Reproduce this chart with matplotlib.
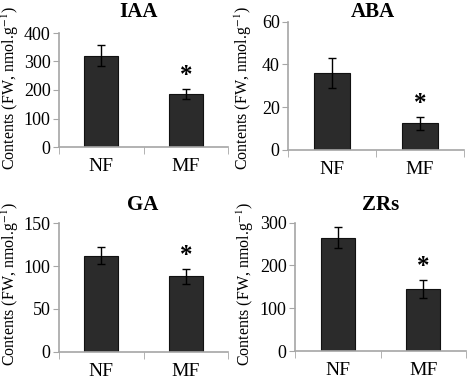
import numpy as np
from matplotlib import pyplot as plt

hormones = ['IAA', 'ABA', 'GA', 'ZRs']
groups = ['NF', 'MF']
nf_means = [320, 36, 112, 265]
nf_err = [37, 7, 10, 24]
mf_means = [185, 12.5, 88, 146]
mf_err = [18, 3.1, 8.5, 21]
y_max = [400, 60, 150, 300]
y_step = [100, 20, 50, 100]

plt.rcParams['font.family'] = ['Liberation Serif', 'DejaVu Serif']
plt.rcParams['mathtext.fontset'] = 'stix'

fig = plt.figure(figsize=(4.72, 3.8), dpi=100)
W, H = 472, 380

# axes boxes in pixels: left, top, right, bottom
boxes = [(59, 33, 228, 147),
         (288, 21.7, 464, 150),
         (59, 223.3, 228, 351.7),
         (295, 222.7, 466, 351)]
label_x = [10, 243, 10, 245]
title_pos = [(139, 12), (373, 12), (143, 205), (381, 205)]

grey = '#a6a6a6'
for k, name in enumerate(hormones):
    l, t, r, b = boxes[k]
    ax = fig.add_axes([l / W, 1 - b / H, (r - l) / W, (b - t) / H])
    x = np.arange(len(groups))
    means = [nf_means[k], mf_means[k]]
    errs = [nf_err[k], mf_err[k]]
    ax.bar(x, means, width=0.4, color='#2b2b2b', edgecolor='#111111', linewidth=0.8,
           yerr=errs, capsize=3, error_kw=dict(ecolor='black', elinewidth=1, capthick=1))
    ax.text(x[1], means[1] + errs[1] + y_max[k] * 0.015, '*', ha='center', va='bottom',
            fontsize=18, fontweight='bold')
    ax.set_xlim(-0.5, 1.5)
    ax.set_ylim(0, y_max[k])
    ax.set_yticks(np.arange(0, y_max[k] + 1, y_step[k]))
    ax.set_xticks(x)
    ax.set_xticklabels(groups)
    ax.set_xticks([-0.5, 0.5, 1.5], minor=True)
    ax.tick_params(axis='x', which='major', length=0, pad=8, labelsize=14)
    ax.tick_params(axis='x', which='minor', length=5, color=grey, direction='out')
    ax.tick_params(axis='y', length=4, color=grey, labelsize=13, pad=2)
    for s in ['top', 'right']:
        ax.spines[s].set_visible(False)
    for s in ['left', 'bottom']:
        ax.spines[s].set_color(grey)
        ax.spines[s].set_linewidth(1.2)
    tx, ty = title_pos[k]
    fig.text(tx / W, 1 - ty / H, name, ha='center', va='center', fontsize=15, fontweight='bold')
    fig.text(label_x[k] / W, 1 - max((t + b) / 2 - 3, 88) / H, 'Contents (FW, nmol.g$^{-1}$)',
             rotation=90, ha='center', va='center', fontsize=11.5)

fig.savefig('out.png', dpi=100)
